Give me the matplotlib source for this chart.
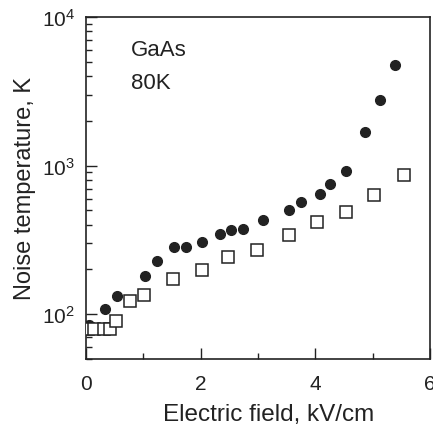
import numpy as np
import matplotlib
matplotlib.use('Agg')
import matplotlib.pyplot as plt
from matplotlib.ticker import LogLocator, MultipleLocator

plt.rcParams['font.family'] = ['Liberation Sans', 'DejaVu Sans']

# filled circles
field_dot = [0.05, 0.32, 0.53, 1.03, 1.23, 1.53, 1.74, 2.03, 2.34, 2.53, 2.73,
             3.08, 3.54, 3.75, 4.08, 4.25, 4.54, 4.86, 5.12, 5.39]
temp_dot = [84, 108, 132, 182, 228, 283, 283, 308, 348, 370, 374,
            431, 499, 567, 641, 750, 922, 1670, 2750, 4720]

# open squares
field_sq = [0.03, 0.13, 0.31, 0.41, 0.52, 0.77, 1.01, 1.52, 2.03, 2.48, 2.98,
            3.54, 4.03, 4.53, 5.03, 5.54]
temp_sq = [79, 80, 79, 79, 90, 123, 135, 172, 199, 241, 272,
           340, 415, 484, 634, 858]

ink = '#222222'

fig = plt.figure(figsize=(4.33, 4.27), dpi=100)
ax = fig.add_axes([0.199, 0.157, 0.794, 0.801])

ax.plot(field_dot, temp_dot, 'o', color=ink, markersize=7, zorder=2)
ax.plot(field_sq, temp_sq, 's', mfc='white', mec=ink, mew=1.1, markersize=8, zorder=3)

ax.set_yscale('log')
ax.set_xlim(0, 6)
ax.set_ylim(50, 1e4)
ax.xaxis.set_major_locator(MultipleLocator(2))
ax.xaxis.set_minor_locator(MultipleLocator(1))
ax.yaxis.set_major_locator(LogLocator(base=10))
ax.yaxis.set_minor_locator(LogLocator(base=10, subs=np.arange(2, 10)))

ax.tick_params(which='both', direction='in', top=False, right=False, colors=ink,
               labelsize=15, width=1.0)
ax.tick_params(axis='x', which='major', length=8, pad=11)
ax.tick_params(axis='y', which='major', length=8, pad=8)
ax.tick_params(which='minor', length=4)
for s in ax.spines.values():
    s.set_color(ink)
    s.set_linewidth(1.2)

ax.set_xlabel('Electric field, kV/cm', fontsize=17.5, color=ink, labelpad=4)
ax.xaxis.set_label_coords(0.53, -0.13)
ax.set_ylabel('Noise temperature, K', fontsize=17, color=ink, labelpad=4)

ax.text(0.13, 0.906, 'GaAs', transform=ax.transAxes, fontsize=16, color=ink, va='center')
ax.text(0.13, 0.807, '80K', transform=ax.transAxes, fontsize=16, color=ink, va='center')

fig.savefig('out.png', dpi=100)
